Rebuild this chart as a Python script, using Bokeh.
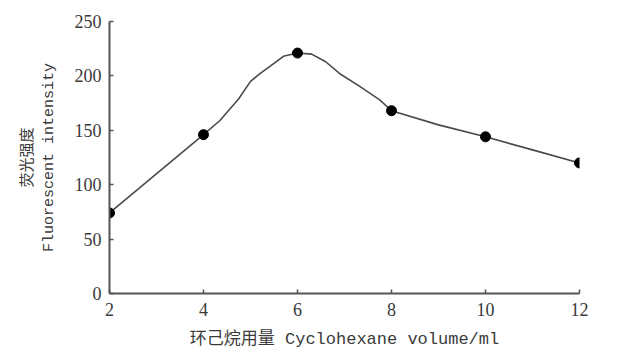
from bokeh.plotting import figure
from bokeh.embed import file_html
from bokeh.resources import INLINE
from bokeh.models import Range1d, FixedTicker

# Measured points
volume = [2, 4, 6, 8, 10, 12]
intensity = [74, 146, 221, 168, 144, 120]

# Smoothed curve
curve_x = [2, 4, 4.35, 4.75, 5.0, 5.2, 5.45, 5.7, 6, 6.3, 6.6, 6.9, 7.3, 7.75, 8, 9, 10, 11, 12]
curve_y = [74, 146, 159, 179, 195, 202, 210, 218, 221, 220, 213, 202, 191, 178, 168, 155, 144, 132, 120]

x_ticks = [2, 4, 6, 8, 10, 12]
y_ticks = [0, 50, 100, 150, 200, 250]

x_label = "环己烷用量 Cyclohexane volume/ml"
y_label = "荧光强度\nFluorescent intensity"

p = figure(width=612, height=356, output_backend="svg", toolbar_location=None,
           x_range=Range1d(2, 12), y_range=Range1d(0, 250),
           min_border_left=109, min_border_right=33, min_border_top=21, min_border_bottom=63)
p.outline_line_color = None
p.xgrid.visible = False
p.ygrid.visible = False
p.background_fill_color = "white"
p.border_fill_color = "white"

p.line(curve_x, curve_y, line_color="#4a4a4a", line_width=1.6)
p.scatter(volume, intensity, size=10, fill_color="black", line_color="black")

tick_font = "Liberation Serif"
label_font = "Liberation Mono, Noto Sans CJK SC"

for ax, ticks in ((p.xaxis[0], x_ticks), (p.yaxis[0], y_ticks)):
    ax.ticker = FixedTicker(ticks=ticks)
    ax.axis_line_color = "#555555"
    ax.axis_line_width = 2
    ax.major_tick_line_color = "#555555"
    ax.major_tick_line_width = 1.5
    ax.major_tick_in = 4
    ax.major_tick_out = 0
    ax.minor_tick_line_color = None
    ax.major_label_text_font = tick_font
    ax.major_label_text_font_size = "18px"
    ax.major_label_text_color = "#3a3a3a"
    ax.axis_label_text_font = label_font
    ax.axis_label_text_font_style = "normal"
    ax.axis_label_text_color = "#3a3a3a"

p.xaxis.axis_label_text_font_size = "17px"
p.yaxis.axis_label_text_font_size = "15px"
p.xaxis.major_label_standoff = 9
p.yaxis.major_label_standoff = 8
p.xaxis.axis_label = x_label
p.yaxis.axis_label = y_label
p.xaxis.axis_label_standoff = 11
p.yaxis.axis_label_standoff = 14

open("out.html", "w").write(file_html(p, INLINE))
